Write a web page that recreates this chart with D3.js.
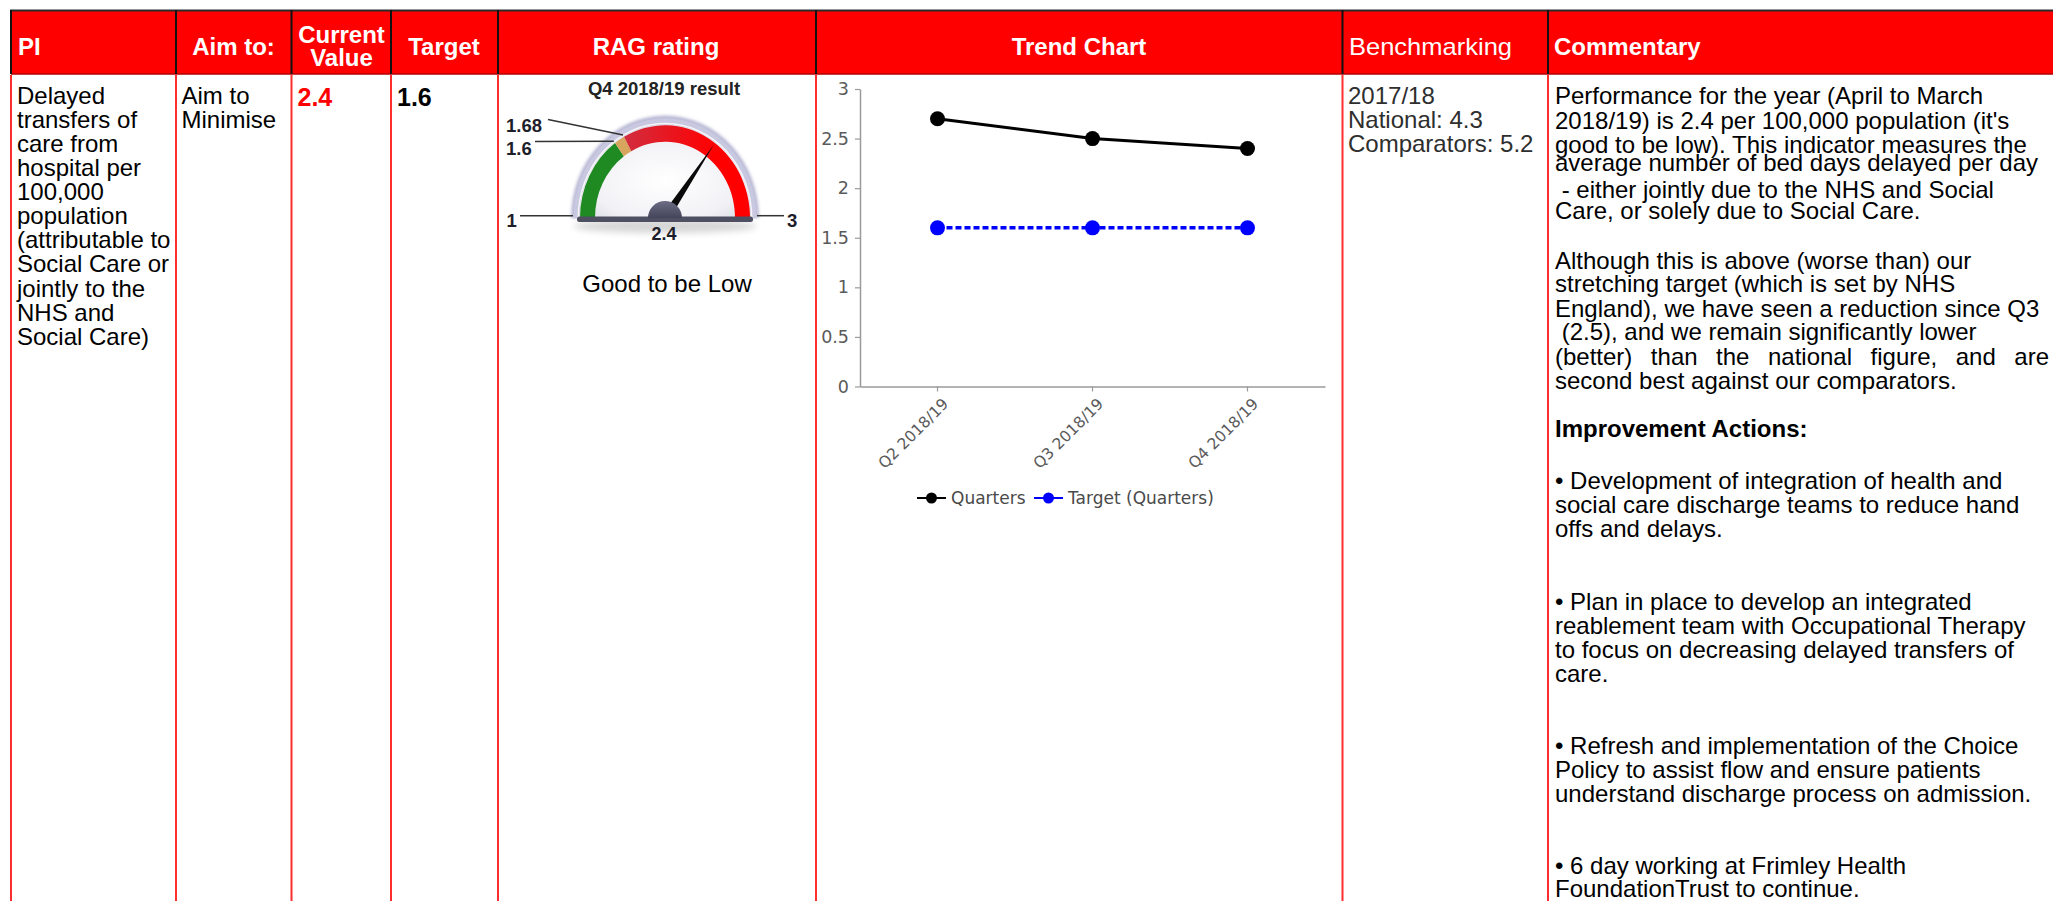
<!DOCTYPE html>
<html>
<head>
<meta charset="utf-8">
<script src="https://cdn.jsdelivr.net/npm/d3@7/dist/d3.min.js"></script>
<style>
  html, body { margin: 0; padding: 0; background: #fff; overflow: hidden; }
  svg { display: block; }
  text { font-family: "Liberation Sans", Arial, Helvetica, sans-serif; }
  .trend text { font-family: "DejaVu Sans", Verdana, sans-serif; }
</style>
</head>
<body>
<svg id="scorecard" width="2053" height="901"></svg>
<script>
// ---------- scorecard content ----------
const headerLabels = ["PI", "Aim to:", "Current\nValue", "Target", "RAG rating", "Trend Chart", "Benchmarking", "Commentary"];
const piName = ["Delayed", "transfers of", "care from", "hospital per", "100,000", "population",
  "(attributable to", "Social Care or", "jointly to the", "NHS and", "Social Care)"];
const aimText = ["Aim to", "Minimise"];
const currentValue = 2.4;
const targetValue = 1.6;

// RAG gauge
const gaugeTitle = "Q4 2018/19 result";
const gaugeRange = [1, 3];
const gaugeThresholds = [1.6, 1.68];
const gaugeCaption = "Good to be Low";

// Trend chart
const quarters = ["Q2 2018/19", "Q3 2018/19", "Q4 2018/19"];
const quarterValues = [2.7, 2.5, 2.4];
const targetQuarterValues = [1.6, 1.6, 1.6];
const yTicks = [0, 0.5, 1, 1.5, 2, 2.5, 3];
const seriesNames = ["Quarters", "Target (Quarters)"];

// Benchmarking + commentary
const benchmarking = ["2017/18", "National: 4.3", "Comparators: 5.2"];
const commentaryLines = [
  "Performance for the year (April to March",
  "2018/19) is 2.4 per 100,000 population (it's",
  "good to be low). This indicator measures the",
  "average number of bed days delayed per day",
  " - either jointly due to the NHS and Social",
  "Care, or solely due to Social Care.",
  "Although this is above (worse than) our",
  "stretching target (which is set by NHS",
  "England), we have seen a reduction since Q3",
  " (2.5), and we remain significantly lower",
  "(better) than the national figure, and are",
  "second best against our comparators.",
  "Improvement Actions:",
  "\u2022 Development of integration of health and",
  "social care discharge teams to reduce hand",
  "offs and delays.",
  "\u2022 Plan in place to develop an integrated",
  "reablement team with Occupational Therapy",
  "to focus on decreasing delayed transfers of",
  "care.",
  "\u2022 Refresh and implementation of the Choice",
  "Policy to assist flow and ensure patients",
  "understand discharge process on admission.",
  "\u2022 6 day working at Frimley Health",
  "FoundationTrust to continue."
];

// ---------- layout ----------
const W = 2053, H = 901;
const colX = [11, 176, 291.5, 391, 498, 816, 1342.5, 1548, 2053];
const headTop = 11, headBottom = 74;
const commentaryBaselines = [104, 129.3, 152.7, 170.7, 198.3, 219.3,
  268.5, 292, 316.6, 340.4, 365.2, 388.8,
  436.8,
  488.5, 512.5, 536.8,
  610.2, 633.8, 657.8, 681.8,
  753.5, 777.8, 801.8,
  873.5, 896.8];
const justifiedLine = 10;   // stretched to the column width
const boldLine = 12;

const svg = d3.select("#scorecard");
const defs = svg.append("defs");

// ---------- table frame ----------
svg.append("rect").attr("x", colX[0]).attr("y", headTop)
  .attr("width", W - colX[0]).attr("height", headBottom - headTop).attr("fill", "#ff0000");
svg.append("line").attr("x1", colX[0] - 1).attr("x2", W).attr("y1", headTop - 0.5).attr("y2", headTop - 0.5)
  .attr("stroke", "#2a2a2a").attr("stroke-width", 2);
svg.append("line").attr("x1", colX[0]).attr("x2", W).attr("y1", headBottom).attr("y2", headBottom)
  .attr("stroke", "#b00000").attr("stroke-width", 1.5);

colX.slice(0, 8).forEach(x => {
  svg.append("line").attr("x1", x).attr("x2", x).attr("y1", headTop - 1).attr("y2", headBottom)
    .attr("stroke", "#111").attr("stroke-width", 2);
  svg.append("line").attr("x1", x).attr("x2", x).attr("y1", headBottom + 1).attr("y2", H)
    .attr("stroke", "#ff2e2e").attr("stroke-width", 2);
});

// ---------- header labels ----------
const headerStyle = [
  { x: 18, anchor: "start", weight: "bold" },
  { x: 233.5, anchor: "middle", weight: "bold" },
  { x: 341.5, anchor: "middle", weight: "bold" },
  { x: 444, anchor: "middle", weight: "bold" },
  { x: 656, anchor: "middle", weight: "bold" },
  { x: 1079, anchor: "middle", weight: "bold" },
  { x: 1349, anchor: "start", weight: "normal", len: 163 },
  { x: 1554, anchor: "start", weight: "bold" }
];
headerLabels.forEach((lab, i) => {
  const s = headerStyle[i];
  const parts = lab.split("\n");
  parts.forEach((p, j) => {
    const t = svg.append("text")
      .attr("x", s.x)
      .attr("y", parts.length > 1 ? 42.7 + j * 23.3 : 55)
      .attr("text-anchor", s.anchor)
      .attr("font-size", 24)
      .attr("font-weight", s.weight)
      .attr("fill", "#fff")
      .text(p);
    if (s.len) t.attr("textLength", s.len).attr("lengthAdjust", "spacingAndGlyphs");
  });
});

// ---------- PI / aim / values ----------
svg.append("g").selectAll("text").data(piName).join("text")
  .attr("x", 17).attr("y", (d, i) => 104 + i * 24.07)
  .attr("font-size", 24).attr("fill", "#000").text(d => d);

svg.append("g").selectAll("text").data(aimText).join("text")
  .attr("x", 181.5).attr("y", (d, i) => 104 + i * 24.07)
  .attr("font-size", 24).attr("fill", "#000").text(d => d);

svg.append("text").attr("x", 297.5).attr("y", 106)
  .attr("font-size", 25).attr("font-weight", "bold").attr("fill", "#ff0000")
  .text(d3.format(".1f")(currentValue));
svg.append("text").attr("x", 397).attr("y", 106)
  .attr("font-size", 25).attr("font-weight", "bold").attr("fill", "#000")
  .text(d3.format(".1f")(targetValue));

// ---------- RAG gauge ----------
const gx = 665, gy = 218, gsy = 1.09;
const angle = d3.scaleLinear().domain(gaugeRange).range([-Math.PI / 2, Math.PI / 2]);

const faceGrad = defs.append("radialGradient").attr("id", "face")
  .attr("cx", "50%").attr("cy", "60%").attr("r", "60%");
faceGrad.append("stop").attr("offset", "0%").attr("stop-color", "#ffffff");
faceGrad.append("stop").attr("offset", "70%").attr("stop-color", "#f2f2f6");
faceGrad.append("stop").attr("offset", "100%").attr("stop-color", "#dcdce6");

const redGrad = defs.append("linearGradient").attr("id", "redBand")
  .attr("gradientUnits", "userSpaceOnUse").attr("x1", -40).attr("y1", 0).attr("x2", 50).attr("y2", 0);
redGrad.append("stop").attr("offset", "0%").attr("stop-color", "#d22c3e");
redGrad.append("stop").attr("offset", "100%").attr("stop-color", "#ff0000");

const hubGrad = defs.append("linearGradient").attr("id", "hub").attr("x1", 0).attr("y1", 0).attr("x2", 0).attr("y2", 1);
hubGrad.append("stop").attr("offset", "0%").attr("stop-color", "#6c6c84");
hubGrad.append("stop").attr("offset", "100%").attr("stop-color", "#44445a");

const soft = defs.append("filter").attr("id", "soft").attr("x", "-20%").attr("y", "-50%").attr("width", "140%").attr("height", "200%");
soft.append("feGaussianBlur").attr("stdDeviation", 3.5);
const softer = defs.append("filter").attr("id", "softer").attr("x", "-20%").attr("y", "-20%").attr("width", "140%").attr("height", "140%");
softer.append("feGaussianBlur").attr("stdDeviation", 1.6);

svg.append("text").attr("x", 664).attr("y", 95).attr("text-anchor", "middle")
  .attr("font-size", 18.5).attr("font-weight", "bold").attr("fill", "#222").text(gaugeTitle);

// shadow under the dial
svg.append("ellipse").attr("cx", gx).attr("cy", gy + 8).attr("rx", 92).attr("ry", 7)
  .attr("fill", "#000").attr("opacity", 0.16).attr("filter", "url(#soft)");

const dial = svg.append("g").attr("transform", `translate(${gx},${gy}) scale(1,${gsy})`);
const half = (r0, r1) => d3.arc().innerRadius(r0).outerRadius(r1)
  .startAngle(angle(gaugeRange[0])).endAngle(angle(gaugeRange[1]))();

// bezel
dial.append("path").attr("d", half(84, 94)).attr("fill", "#b9b9d6").attr("filter", "url(#softer)");
dial.append("path").attr("d", half(86, 91.5)).attr("fill", "#c8c8e0");
dial.append("path").attr("d", half(86, 87.5)).attr("fill", "#f4f4fa");
dial.append("path").attr("d", half(0, 86)).attr("fill", "url(#face)");

// coloured bands
const bandEdges = [gaugeRange[0], ...gaugeThresholds, gaugeRange[1]];
const bandFills = ["#1f8a22", "#d8a55e", "url(#redBand)"];
const bandArc = d3.arc().innerRadius(70).outerRadius(85);
dial.selectAll("path.band").data(d3.pairs(bandEdges)).join("path")
  .attr("class", "band")
  .attr("d", d => bandArc({ startAngle: angle(d[0]), endAngle: angle(d[1]) }))
  .attr("fill", (d, i) => bandFills[i]);

// needle
const a = angle(currentValue), rn = 83, hw = 4.2;
const needlePts = [
  [rn * Math.sin(a), -rn * Math.cos(a)],
  [hw * Math.cos(a), hw * Math.sin(a)],
  [-hw * Math.cos(a), -hw * Math.sin(a)]
];
dial.append("path").attr("d", d3.line()(needlePts) + "Z").attr("fill", "#0a0a0a");

// base bar and hub
const base = svg.append("g").attr("transform", `translate(${gx},${gy})`);
base.append("rect").attr("x", -88).attr("y", -1.5).attr("width", 176).attr("height", 5.5)
  .attr("rx", 2.5).attr("fill", "#4f4f62");
base.append("path")
  .attr("d", d3.arc().innerRadius(0).outerRadius(17).startAngle(-Math.PI / 2).endAngle(Math.PI / 2)())
  .attr("fill", "url(#hub)");

// gauge labels with leader lines
const bandPoint = (v, r) => [gx + r * Math.sin(angle(v)), gy - r * Math.cos(angle(v)) * gsy];
const leaders = [
  { v: gaugeRange[0], from: [520, 215.7], to: [573, 215.7], tx: 506.5, ty: 226.5 },
  { v: gaugeRange[1], from: [757, 215.7], to: [784, 215.7], tx: 787, ty: 226.5 },
  { v: gaugeThresholds[1], from: [548, 119.5], to: bandPoint(gaugeThresholds[1], 87), tx: 506, ty: 131.5 },
  { v: gaugeThresholds[0], from: [535, 141.5], to: bandPoint(gaugeThresholds[0], 87), tx: 506, ty: 155 }
];
leaders.forEach(l => {
  svg.append("line").attr("x1", l.from[0]).attr("y1", l.from[1]).attr("x2", l.to[0]).attr("y2", l.to[1])
    .attr("stroke", "#333").attr("stroke-width", 1.5);
  svg.append("text").attr("x", l.tx).attr("y", l.ty).attr("font-size", 18.5).attr("font-weight", "bold")
    .attr("fill", "#1e1e2a").text(d3.format("~g")(l.v));
});
svg.append("text").attr("x", 664).attr("y", 240).attr("text-anchor", "middle")
  .attr("font-size", 18).attr("font-weight", "bold").attr("fill", "#1e1e2a")
  .text(d3.format(".1f")(currentValue));

svg.append("text").attr("x", 667).attr("y", 292).attr("text-anchor", "middle")
  .attr("font-size", 24).attr("fill", "#000").text(gaugeCaption);

// ---------- trend chart ----------
const trend = svg.append("g").attr("class", "trend");
const x = d3.scaleBand().domain(quarters).range([860, 1325]);
const cx = q => x(q) + x.bandwidth() / 2;
const y = d3.scaleLinear().domain([0, 3]).range([386.5, 89]);

const yAxis = trend.append("g").attr("transform", "translate(860,0)")
  .call(d3.axisLeft(y).tickValues(yTicks).tickFormat(d3.format("~g")).tickSize(5).tickSizeOuter(0).tickPadding(6));
const xAxis = trend.append("g").attr("transform", "translate(0,386.5)")
  .call(d3.axisBottom(x).tickSize(5).tickSizeOuter(0).tickFormat(""));
[yAxis, xAxis].forEach(ax => {
  ax.select(".domain").attr("stroke", "#9a9a9a").attr("stroke-width", 1.5);
  ax.selectAll(".tick line").attr("stroke", "#9a9a9a").attr("stroke-width", 1.2);
});
yAxis.selectAll(".tick text").attr("font-size", 17.5).attr("fill", "#5a5a5a")
  .attr("font-family", "DejaVu Sans, Verdana, sans-serif");

trend.append("g").selectAll("text").data(quarters).join("text")
  .attr("transform", d => `translate(${cx(d) + 8},${401}) rotate(-45)`)
  .attr("text-anchor", "end").attr("dy", "0.35em")
  .attr("font-size", 15.5).attr("fill", "#5a5a5a").text(d => d);

const lineGen = d3.line().x((d, i) => cx(quarters[i])).y(d => y(d));
trend.append("path").attr("d", lineGen(targetQuarterValues)).attr("fill", "none")
  .attr("stroke", "#0000ff").attr("stroke-width", 3.5).attr("stroke-dasharray", "6,3");
trend.append("g").selectAll("circle").data(targetQuarterValues).join("circle")
  .attr("cx", (d, i) => cx(quarters[i])).attr("cy", d => y(d)).attr("r", 7.5).attr("fill", "#0000ff");

trend.append("path").attr("d", lineGen(quarterValues)).attr("fill", "none")
  .attr("stroke", "#000").attr("stroke-width", 3);
trend.append("g").selectAll("circle").data(quarterValues).join("circle")
  .attr("cx", (d, i) => cx(quarters[i])).attr("cy", d => y(d)).attr("r", 7.5).attr("fill", "#000");

// legend
const legendColors = ["#000", "#0000ff"];
const legendX = [917, 1034];
seriesNames.forEach((name, i) => {
  const lg = trend.append("g").attr("transform", `translate(${legendX[i]},498)`);
  lg.append("line").attr("x1", 0).attr("x2", 29).attr("stroke", legendColors[i]).attr("stroke-width", 2);
  lg.append("circle").attr("cx", 14.5).attr("r", 5.5).attr("fill", legendColors[i]);
  lg.append("text").attr("x", 34).attr("dy", "0.36em").attr("font-size", 17).attr("fill", "#4a4a4a").text(name);
});

// ---------- benchmarking ----------
svg.append("g").selectAll("text").data(benchmarking).join("text")
  .attr("x", 1348).attr("y", (d, i) => 104 + i * 24)
  .attr("font-size", 24).attr("fill", "#2e2e2e").text(d => d);

// ---------- commentary ----------
const comm = svg.append("g");
commentaryLines.forEach((line, i) => {
  const t = comm.append("text")
    .attr("x", 1555).attr("y", commentaryBaselines[i])
    .attr("font-size", 24).attr("fill", "#000")
    .style("white-space", "pre")
    .attr("font-weight", i === boldLine ? "bold" : "normal")
    .text(line);
  if (i === justifiedLine) {
    const natural = t.node().getComputedTextLength();
    const gaps = (line.match(/ /g) || []).length;
    t.attr("word-spacing", (494 - natural) / gaps);
  }
});
</script>
</body>
</html>
